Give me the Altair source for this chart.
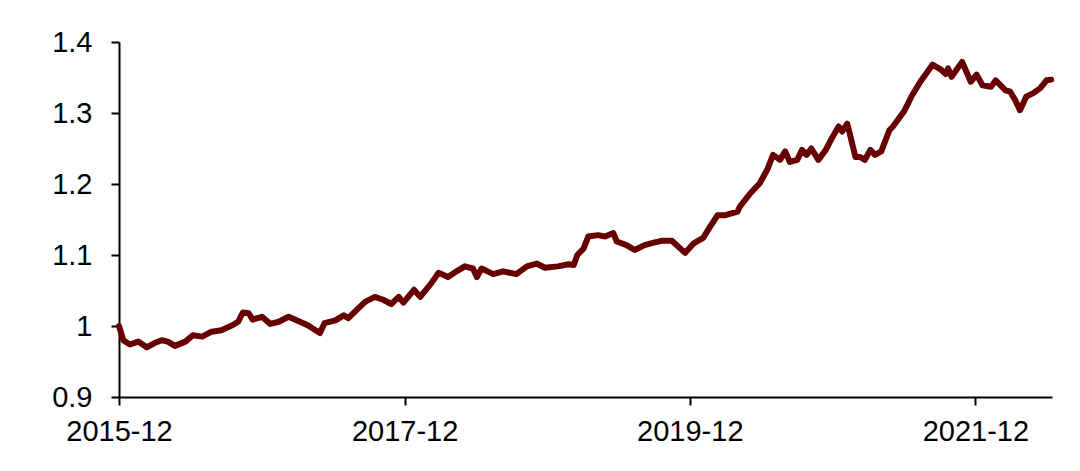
import altair as alt
import pandas as pd

dates = [
    "2015-12-01", "2015-12-12", "2015-12-29", "2016-01-19", "2016-02-10", "2016-03-01",
    "2016-03-19", "2016-04-04", "2016-04-22", "2016-05-19", "2016-06-07", "2016-07-01",
    "2016-07-25", "2016-08-19", "2016-09-16", "2016-10-01", "2016-10-13", "2016-10-28",
    "2016-11-07", "2016-12-01", "2016-12-22", "2017-01-13", "2017-02-07", "2017-03-04",
    "2017-03-28", "2017-04-28", "2017-05-10", "2017-06-07", "2017-06-28", "2017-07-10",
    "2017-08-01", "2017-08-22", "2017-09-16", "2017-10-07", "2017-10-28", "2017-11-16",
    "2017-11-28", "2017-12-25", "2018-01-10", "2018-02-07", "2018-02-26", "2018-03-22",
    "2018-04-13", "2018-05-04", "2018-05-25", "2018-06-04", "2018-06-16", "2018-07-16",
    "2018-08-10", "2018-09-13", "2018-10-10", "2018-11-04", "2018-11-25", "2018-12-28",
    "2019-01-25", "2019-02-07", "2019-02-16", "2019-03-04", "2019-03-16", "2019-04-10",
    "2019-04-28", "2019-05-19", "2019-05-28", "2019-06-22", "2019-07-13", "2019-08-07",
    "2019-08-28", "2019-09-19", "2019-10-16", "2019-11-19", "2019-12-10", "2020-01-04",
    "2020-01-22", "2020-02-10", "2020-03-01", "2020-04-01", "2020-04-07", "2020-05-04",
    "2020-05-28", "2020-06-16", "2020-07-01", "2020-07-19", "2020-08-01", "2020-08-13",
    "2020-09-01", "2020-09-13", "2020-09-25", "2020-10-07", "2020-10-25", "2020-11-13",
    "2020-11-28", "2020-12-16", "2020-12-25", "2021-01-07", "2021-01-28", "2021-02-09",
    "2021-02-21", "2021-03-07", "2021-03-19", "2021-04-04", "2021-04-25", "2021-05-04",
    "2021-06-01", "2021-06-22", "2021-07-13", "2021-08-13", "2021-09-04", "2021-09-16",
    "2021-09-22", "2021-10-01", "2021-10-28", "2021-11-19", "2021-12-04", "2021-12-19",
    "2022-01-10", "2022-01-22", "2022-02-16", "2022-02-28", "2022-03-13", "2022-03-25",
    "2022-04-10", "2022-04-28", "2022-05-16", "2022-06-01", "2022-06-13",
]
values = [
    1.000, 0.980, 0.974, 0.978, 0.970, 0.976,
    0.980, 0.978, 0.972, 0.978, 0.987, 0.985,
    0.992, 0.994, 1.001, 1.006, 1.019, 1.018,
    1.009, 1.013, 1.003, 1.006, 1.013, 1.007,
    1.001, 0.990, 1.004, 1.008, 1.015, 1.011,
    1.023, 1.034, 1.041, 1.037, 1.031, 1.041,
    1.033, 1.051, 1.041, 1.060, 1.075, 1.069,
    1.077, 1.084, 1.081, 1.069, 1.081, 1.073,
    1.077, 1.073, 1.084, 1.088, 1.082, 1.084,
    1.087, 1.086, 1.100, 1.109, 1.126, 1.128,
    1.126, 1.131, 1.119, 1.114, 1.107, 1.114,
    1.117, 1.120, 1.120, 1.103, 1.116, 1.124,
    1.140, 1.156, 1.156, 1.161, 1.168, 1.187,
    1.201, 1.220, 1.241, 1.234, 1.246, 1.231,
    1.234, 1.248, 1.241, 1.250, 1.234, 1.248,
    1.264, 1.281, 1.274, 1.285, 1.238, 1.238,
    1.234, 1.248, 1.241, 1.246, 1.276, 1.281,
    1.302, 1.325, 1.344, 1.368, 1.361, 1.355,
    1.363, 1.351, 1.372, 1.344, 1.354, 1.339,
    1.337, 1.346, 1.332, 1.330, 1.318, 1.304,
    1.323, 1.328, 1.335, 1.346, 1.347,
]
y_ticks = [0.9, 1.0, 1.1, 1.2, 1.3, 1.4]
x_tick_years = [2015, 2017, 2019, 2021]

df = pd.DataFrame({"date": dates, "value": values})

x_ticks = [alt.DateTime(year=y, month=12, date=1, utc=True) for y in x_tick_years]

axis_style = dict(
    grid=False,
    labelFont="Liberation Sans",
    labelFontSize=29,
    labelColor="#000000",
    domainColor="#000000",
    domainWidth=2,
    tickColor="#000000",
    tickWidth=2,
    tickSize=8,
)

chart = (
    alt.Chart(df)
    .mark_line(color="#670000", strokeWidth=6, strokeJoin="round", strokeCap="round")
    .encode(
        x=alt.X(
            "date:T",
            title=None,
            scale=alt.Scale(
                type="utc",
                domain=[
                    alt.DateTime(year=2015, month=12, date=1, utc=True),
                    alt.DateTime(year=2022, month=6, date=15, utc=True),
                ],
                nice=False,
            ),
            axis=alt.Axis(
                values=x_ticks,
                format="%Y-%m",
                labelFlush=False,
                labelOverlap=False,
                labelPadding=12,
                labelBaseline="top",
                **axis_style,
            ),
        ),
        y=alt.Y(
            "value:Q",
            title=None,
            scale=alt.Scale(domain=[0.9, 1.4], nice=False, zero=False),
            axis=alt.Axis(
                values=y_ticks,
                format="~g",
                labelPadding=19,
                **axis_style,
            ),
        ),
    )
    .properties(
        width=933,
        height=355,
        autosize=alt.AutoSizeParams(type="none"),
        padding={"left": 111, "top": 34, "right": 20, "bottom": 60},
    )
    .configure_view(stroke=None)
    .configure_axis(labelFontSize=29, labelFont="Liberation Sans")
)

chart.save("out.html", embed_options={"renderer": "svg", "actions": False})
